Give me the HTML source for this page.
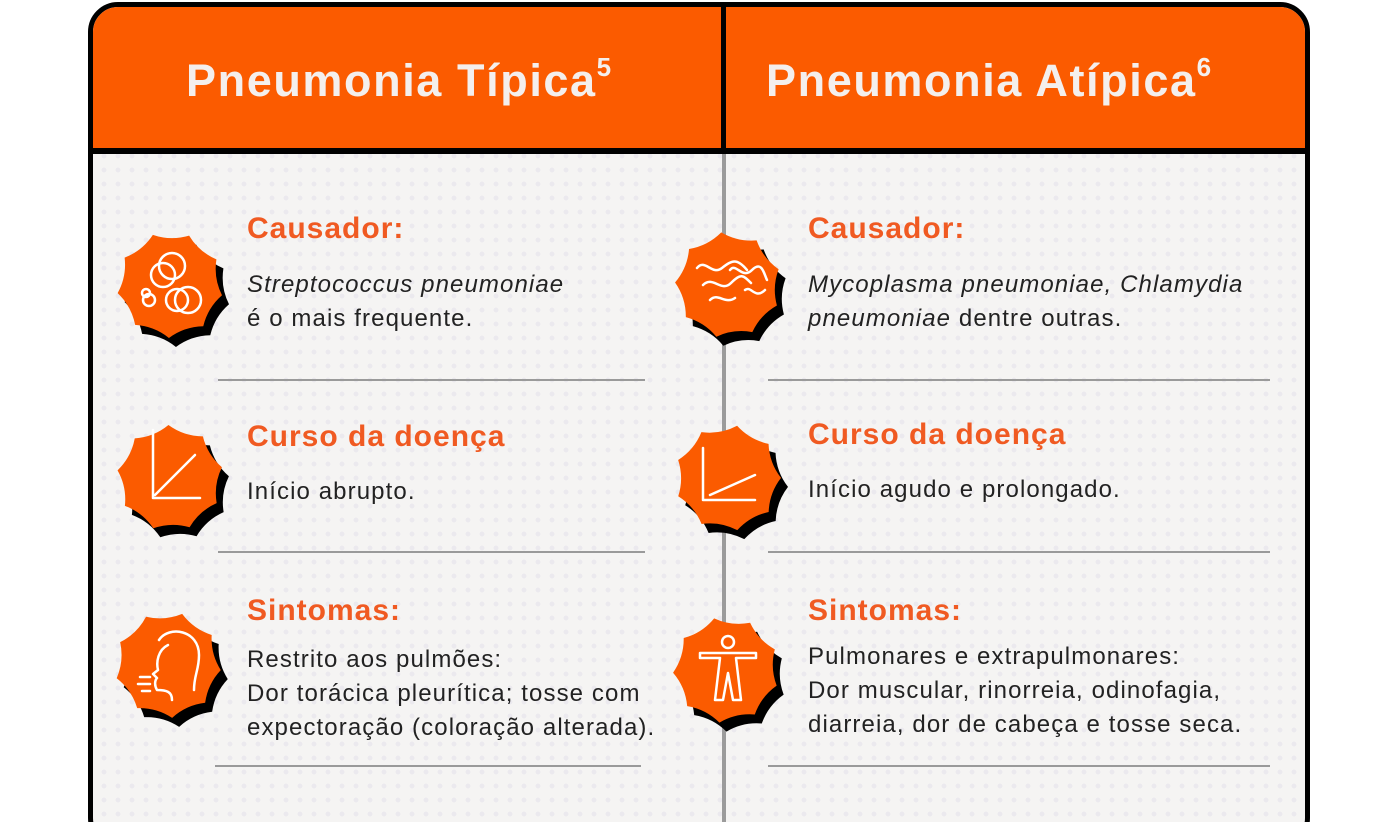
<!DOCTYPE html>
<html><head><meta charset="utf-8"><style>
html,body{margin:0;padding:0;background:#fff;width:1400px;height:822px;overflow:hidden;}
body{position:relative;font-family:"Liberation Sans",sans-serif;}
#card{position:absolute;left:88px;top:2px;width:1212px;height:836px;border:5px solid #000;border-radius:30px;overflow:hidden;
background-color:#f5f4f3;background-image:radial-gradient(circle,#ebe9ee 2.2px,transparent 2.6px);background-size:14px 14px;background-position:4px 2px;}
#hdr{position:absolute;left:0;top:0;width:100%;height:141px;background:#fb5b00;border-bottom:6px solid #000;}
.ht{position:absolute;top:48px;color:#f4efed;font-size:45px;font-weight:bold;letter-spacing:1.6px;}
.ht sup{font-size:26px;position:relative;top:-4px;}
#vdh{position:absolute;left:628px;top:0;width:5px;height:147px;background:#000;}
#vdb{position:absolute;left:629px;top:147px;width:4px;height:700px;background:#9b9b9b;}
.h{position:absolute;color:#f05a22;font-size:30px;font-weight:bold;letter-spacing:1px;}
.t{position:absolute;color:#222;font-size:24px;line-height:34px;letter-spacing:1.1px;}
.sep{position:absolute;height:2px;background:#9a9a9a;}
svg{position:absolute;left:0;top:0;}
</style></head><body>
<div id="card">
<div id="hdr"></div>
<div class="ht" style="left:93px">Pneumonia Típica<sup>5</sup></div>
<div class="ht" style="left:673px">Pneumonia Atípica<sup>6</sup></div>
<div id="vdh"></div><div id="vdb"></div>
</div>
<div class="h" style="left:247px;top:212px">Causador:</div>
<div class="t" style="left:247px;top:268px"><i>Streptococcus pneumoniae</i><br>é o mais frequente.</div>
<div class="sep" style="left:218px;top:379px;width:427px"></div>
<div class="h" style="left:247px;top:420px">Curso da doença</div>
<div class="t" style="left:247px;top:475px">Início abrupto.</div>
<div class="sep" style="left:218px;top:551px;width:427px"></div>
<div class="h" style="left:247px;top:594px">Sintomas:</div>
<div class="t" style="left:247px;top:643px">Restrito aos pulmões:<br>Dor torácica pleurítica; tosse com<br>expectoração (coloração alterada).</div>
<div class="sep" style="left:215px;top:765px;width:426px"></div>

<div class="h" style="left:808px;top:212px">Causador:</div>
<div class="t" style="left:808px;top:268px"><i>Mycoplasma pneumoniae, Chlamydia<br>pneumoniae</i> dentre outras.</div>
<div class="sep" style="left:768px;top:379px;width:502px"></div>
<div class="h" style="left:808px;top:418px">Curso da doença</div>
<div class="t" style="left:808px;top:473px">Início agudo e prolongado.</div>
<div class="sep" style="left:768px;top:551px;width:502px"></div>
<div class="h" style="left:808px;top:594px">Sintomas:</div>
<div class="t" style="left:808px;top:640px">Pulmonares e extrapulmonares:<br>Dor muscular, rinorreia, odinofagia,<br>diarreia, dor de cabeça e tosse seca.</div>
<div class="sep" style="left:768px;top:765px;width:502px"></div>

<svg width="1400" height="822" id="ic">
<g fill="none" stroke="#fff" stroke-width="2.5" stroke-linecap="round" stroke-linejoin="round">
<circle cx="172" cy="266" r="13"/><circle cx="163" cy="275" r="12"/><circle cx="188" cy="300" r="13"/><circle cx="177" cy="300" r="11"/><circle cx="149" cy="300" r="6"/><circle cx="146" cy="293" r="4"/>
<path d="M153 430 V498 H200 M155 495 L195 455"/>
<path d="M159 640 c10-15 40-10 40 15 c0 15-5 20-5 35 M172 700 c0-8-5-10-15-10 c-3-5-2-10 0-12 l-4-4 l5-4 c-2-8 0-20 10-25 M150 677 h-10 M150 684 h-12 M150 691 h-8"/>
<path d="M697 268 c8-10 15 8 25 0 s15-10 25 2 M703 285 c10-10 18 8 28-2 s12-8 20 0 M710 300 c8-8 15 5 25-2 M730 270 c6-8 12 10 22 0 s12 4 15 10 M745 290 c6-5 10 10 20 0"/>
<path d="M703 448 V500 H755 M710 495 L755 475"/>
<circle cx="728" cy="642" r="6"/>
<path d="M700 653 H756 V658 H736 L741 700 H733 L728 673 L723 700 H715 L720 658 H700 Z"/>
</g>
</svg>
<script>
function star(cx,cy,R,rr,n,rot){var d="",i;for(i=0;i<n;i++){var a=rot+i*2*Math.PI/n,b=a+Math.PI/n,c=a+2*Math.PI/n;
var p=[cx+R*Math.cos(a),cy+R*Math.sin(a)];if(i==0)d+="M"+p[0]+" "+p[1];
d+=" Q"+(cx+rr*Math.cos(b))+" "+(cy+rr*Math.sin(b))+" "+(cx+R*Math.cos(c))+" "+(cy+R*Math.sin(c));}return d+"Z";}
var s=document.getElementById('ic'),ns="http://www.w3.org/2000/svg",g=document.createElementNS(ns,'g');
var C=[[170,285],[170,478],[168,665],[728,285],[728,478],[726,670]];
C.forEach(function(c,k){var rot=-1.9+k*0.3;
var p1=document.createElementNS(ns,'path');p1.setAttribute('d',star(c[0]+7,c[1]+9,53,44,9,rot));p1.setAttribute('fill','#000');g.appendChild(p1);
var p2=document.createElementNS(ns,'path');p2.setAttribute('d',star(c[0],c[1],53,44,9,rot));p2.setAttribute('fill','#fb5b00');g.appendChild(p2);});
s.insertBefore(g,s.firstChild);
</script>
</body></html>
